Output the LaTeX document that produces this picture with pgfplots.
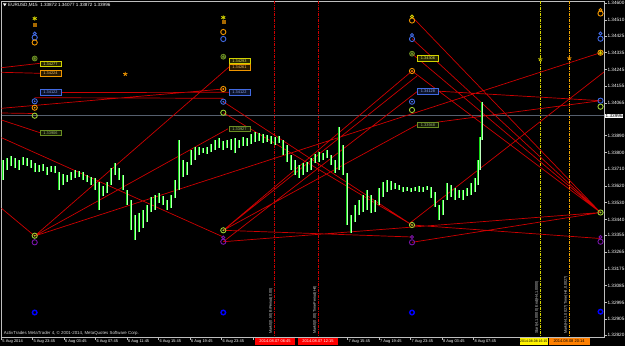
\documentclass[border=0pt]{standalone}
\usepackage{pgfplots}
\pgfplotsset{compat=1.18}
\usepackage{pgfplotstable}
\usepackage{fontspec}
\setmainfont{Liberation Sans}
\definecolor{cred}{RGB}{205,0,0}
\definecolor{cyel}{RGB}{210,210,0}
\definecolor{corg}{RGB}{240,150,0}
\definecolor{cblu}{RGB}{65,105,225}
\definecolor{coli}{RGB}{107,142,35}
\definecolor{cyg}{RGB}{154,205,50}
\definecolor{cpur}{RGB}{120,20,170}
\definecolor{cbb}{RGB}{0,0,255}
\definecolor{cgrn}{RGB}{20,215,20}
\definecolor{cpale}{RGB}{190,255,190}
\definecolor{cgray}{RGB}{85,95,110}
\definecolor{cframe}{RGB}{190,190,190}
\newcommand\tfp{\fontsize{4.7}{5}\selectfont}
\newcommand\tfd{\fontsize{4.0}{4.5}\selectfont}
\newcommand\tfb{\fontsize{3.9}{4.2}\selectfont}
\newcommand\tfv{\fontsize{3.8}{4.0}\selectfont}

% price bars: x (pixel column), top and bottom of the bar (pixel rows)
\pgfplotstableread{
x top bot
3 160 180
7 158 170
11 156 166
15 158 168
19 160 170
23 157 165
27 158 166
31 160 168
35 163 172
39 165 172
43 164 171
47 167 175
51 166 172
55 166 173
59 172 190
63 174 185
67 175 182
71 172 180
75 170 178
79 171 177
83 172 180
87 175 182
91 177 185
95 178 190
99 182 210
103 186 196
107 182 193
111 168 185
115 163 175
119 168 180
123 175 190
127 190 205
131 200 230
135 215 240
139 213 232
143 210 228
147 205 222
151 197 212
155 195 210
159 193 203
163 196 205
167 200 210
171 195 208
175 180 198
179 140 190
183 160 177
187 162 175
191 150 165
195 147 160
199 147 155
203 148 153
207 147 154
211 144 152
215 140 150
219 138 148
223 141 150
227 140 148
231 139 150
235 138 153
239 140 148
243 137 146
247 138 146
251 134 144
255 132 142
259 133 141
263 134 143
267 135 142
271 136 144
275 137 145
279 136 143
283 140 155
287 145 162
291 155 170
295 160 175
299 165 178
303 163 175
307 162 172
311 158 170
315 154 163
319 152 162
323 153 160
327 150 158
331 155 165
335 160 173
339 127 170
343 145 175
347 173 225
351 215 233
355 205 222
359 200 215
363 195 212
367 190 210
371 195 213
375 200 212
379 188 205
383 182 197
387 180 192
391 181 190
395 183 189
399 185 190
403 187 192
407 187 191
411 188 192
415 187 191
419 186 192
423 187 192
427 186 190
431 187 198
435 192 207
439 205 220
443 200 215
447 183 200
451 185 197
455 188 200
459 190 198
463 190 200
467 188 196
471 183 195
475 178 192
478 160 185
480 137 170
482 102 140
}\bars

\begin{document}
\begin{tikzpicture}[x=1bp,y=1bp]
\fill[black] (0,0) rectangle (625,346);
\useasboundingbox (0,0) rectangle (625,346);
\begin{axis}[
  at={(1.5bp,9bp)}, anchor=south west,
  scale only axis, width=602.8bp, height=336bp,
  xmin=1.5, xmax=604.3, ymin=1, ymax=337, y dir=reverse,
  clip=false,
  axis line style={draw=cframe, line width=0.6bp},
  tick align=outside, major tick length=2.5bp,
  tick style={draw=cframe, line width=0.5bp},
  ytick pos=right, yticklabel pos=right,
  xtick pos=lower,
  ytick={3.3,20.1,35.9,52.7,69.5,86.2,103.0,135.6,152.4,169.2,185.9,202.7,219.5,235.3,252.1,268.8,285.6,302.4,319.2,335.0},
  yticklabels={1.34600,1.34510,1.34425,1.34335,1.34245,1.34155,1.34065,1.33890,1.33800,1.33710,1.33620,1.33530,1.33440,1.33355,1.33265,1.33175,1.33085,1.32995,1.32905,1.32820},
  yticklabel style={font=\tfp, text=white, anchor=west, inner sep=0.5bp, xshift=0bp},
  xtick={1.5,32.5,64,95.5,127,158.5,190,221.5,253,284.5,316,347.5,379,410.5,442,473.5},
  xticklabels={5 Aug 2014,5 Aug 23:45,6 Aug 03:45,6 Aug 07:45,6 Aug 11:45,6 Aug 15:45,6 Aug 19:45,6 Aug 23:45,,,,7 Aug 15:45,7 Aug 19:45,7 Aug 23:45,8 Aug 03:45,8 Aug 07:45},
  xticklabel style={font=\tfd, text=white, anchor=north west, inner sep=0.5bp, xshift=0.3bp, yshift=0.3bp},
]
% vertical lines
\addplot[cred, line width=0.7bp, dash pattern=on 3bp off 1bp on 1bp off 1bp] coordinates {(274.3,1) (274.3,337)};
\addplot[cred, line width=0.7bp, dash pattern=on 3bp off 1bp on 1bp off 1bp] coordinates {(318.3,1) (318.3,337)};
\addplot[cyel, line width=0.7bp, dash pattern=on 3bp off 1bp on 1bp off 1bp] coordinates {(540.3,1) (540.3,337)};
\addplot[corg!85!yellow, line width=0.7bp, dash pattern=on 3bp off 1bp on 1bp off 1bp] coordinates {(569.3,1) (569.3,337)};
% current price line
\addplot[cgray, line width=0.9bp] coordinates {(1.5,115.9) (604.3,115.9)};
% trend lines
\addplot[cred, line width=0.7bp, unbounded coords=jump] coordinates {
(1.5,67.7) (40,63.3) (nan,nan)
(1.5,72.3) (40,73.3) (nan,nan)
(1.5,108.3) (223.3,89) (nan,nan)
(61,92.5) (229,92.3) (nan,nan)
(34.7,97.7) (223.3,98.3) (nan,nan)
(1.5,113) (34.7,113.5) (nan,nan)
(1.5,120) (40,132.7) (nan,nan)
(1.5,137.7) (223.3,237) (nan,nan)
(1.5,208.3) (34.7,236) (nan,nan)
(34.7,236) (229,67) (nan,nan)
(34.7,236) (228,128.8) (nan,nan)
(34.7,236) (600.5,52.7) (nan,nan)
(223.3,101.7) (412,225) (nan,nan)
(223.3,112.7) (412,225) (nan,nan)
(223.3,230.3) (412,71) (nan,nan)
(223.3,230.3) (417,76) (nan,nan)
(223.3,241.7) (417,91.7) (nan,nan)
(223.3,230.3) (417,124.8) (nan,nan)
(417,124.8) (600.5,100.7) (nan,nan)
(438.7,91.2) (600.5,100.7) (nan,nan)
(412,16.7) (600.5,212.5) (nan,nan)
(412,38.7) (600.5,212.5) (nan,nan)
(412,53.7) (600.5,212.5) (nan,nan)
(412,71) (600.5,212.5) (nan,nan)
(223.3,230.3) (412,237) (nan,nan)
(223.3,241.7) (600.5,212.5) (nan,nan)
(412,242.3) (600.5,212.5) (nan,nan)
(412,225) (600.5,238.5) (nan,nan)
(410,223) (604,72) (nan,nan)
};
% price bars
\addplot[draw=none, mark=none, forget plot,
  error bars/.cd, y dir=plus, y explicit, error mark=none,
  error bar style={draw=cgrn, line width=1.15bp, solid}]
  table[x=x, y=top, y error expr=\thisrow{bot}-\thisrow{top}] {\bars};
\addplot[draw=none, mark=none, forget plot,
  error bars/.cd, y dir=plus, y explicit, error mark=none,
  error bar style={draw=cpale, line width=0.35bp, solid}]
  table[x=x, y=top, y error expr=\thisrow{bot}-\thisrow{top}] {\bars};
% markers
\addplot[only marks, mark=o, mark size=2.6bp, cyg, line width=0.9bp] coordinates {(34.7,115.7) (223.3,112.7) (412,110) (34.7,235.7) (223.3,230.3) (412,225) (600.5,212.5) (600.5,106.7)};
\addplot[only marks, mark=*, mark size=0.7bp, cyg] coordinates {(34.7,235.7) (223.3,230.3) (412,225) (600.5,212.5)};
\addplot[only marks, mark=o, mark size=2.6bp, cblu, line width=0.9bp] coordinates {(34.7,37.5) (223.3,39) (412,39) (600.5,38.7) (34.7,101.3) (223.3,101.7) (412,101.7) (600.5,100.7)};
\addplot[only marks, mark=*, mark size=0.7bp, cblu] coordinates {(34.7,101.3) (223.3,101.7) (412,101.7)};
\addplot[only marks, mark=o, mark size=1.5bp, cblu, line width=0.8bp] coordinates {(34.7,33.5) (412,35) (600.5,33.5)};
\addplot[only marks, mark=o, mark size=2.6bp, corg, line width=0.9bp] coordinates {(34.7,42.5) (223.3,32) (412,20.5) (600.5,13.5) (34.7,107.7) (223.3,89) (412,71)};
\addplot[only marks, mark=*, mark size=0.7bp, corg] coordinates {(34.7,107.7) (223.3,89) (412,71)};
\addplot[only marks, mark=o, mark size=1.5bp, cyel, line width=0.8bp] coordinates {(412,16.5)};
\addplot[only marks, mark=o, mark size=1.5bp, corg, line width=0.8bp] coordinates {(600.5,10)};
\addplot[only marks, mark=o, mark size=2.4bp, coli, line width=0.9bp] coordinates {(34.7,58.5) (223.3,56.7) (412,53.7)};
\addplot[only marks, mark=asterisk, mark size=1.8bp, coli, line width=0.6bp] coordinates {(34.7,58.5) (223.3,56.7) (412,53.7)};
\addplot[only marks, mark=o, mark size=2.6bp, corg, line width=0.9bp] coordinates {(600.5,52.7)};
\addplot[only marks, mark=asterisk, mark size=2bp, cyel, line width=0.6bp] coordinates {(600.5,52.7)};
\addplot[only marks, mark=asterisk, mark size=2.2bp, cyel, line width=0.8bp] coordinates {(34.7,18.5) (223.3,17.5)};
\addplot[only marks, mark=square*, mark size=1.4bp, corg!70!black] coordinates {(34.7,24.5) (223.3,21.5)};
\addplot[only marks, mark=o, mark size=2.6bp, cpur, line width=0.9bp] coordinates {(34.7,242.3) (223.3,241.7) (412,242.3) (600.5,241.7)};
\addplot[only marks, mark=o, mark size=1.5bp, cpur, line width=0.8bp] coordinates {(223.3,237.5) (412,237) (600.5,237)};
\addplot[only marks, mark=o, mark size=2.3bp, cbb, line width=1.4bp] coordinates {(34.7,312.5) (223.3,312.5) (412,312.5) (600.5,311.7)};
% stars
\addplot[only marks, mark=star, mark size=2.2bp, corg, line width=0.8bp] coordinates {(125.3,74)};
\addplot[only marks, mark=star, mark size=2.2bp, cyel, line width=0.8bp] coordinates {(540.3,59.3)};
\addplot[only marks, mark=star, mark size=2.2bp, corg, line width=0.8bp] coordinates {(569.3,58.3)};
% price boxes
\tikzset{pbox/.style={draw=#1, text=#1!60!white, fill=#1!18!black, font=\tfb, inner sep=0.4bp, minimum width=21bp, minimum height=5.6bp, line width=0.5bp}}
\node[pbox=cyel] at (axis cs:50.5,63.8) {1.34277};
\node[pbox=corg] at (axis cs:50.5,73.5) {1.34224};
\node[pbox=cblu] at (axis cs:50.5,92.5) {1.34122};
\node[pbox=coli] at (axis cs:50.5,132.7) {1.33906};
\node[pbox=cyel] at (axis cs:239.5,60.8) {1.34293};
\node[pbox=corg] at (axis cs:239.5,67) {1.34261};
\node[pbox=cblu] at (axis cs:239.5,92.3) {1.34122};
\node[pbox=coli] at (axis cs:239.5,128.8) {1.33927};
\node[pbox=cyel] at (axis cs:428,58) {1.34306};
\node[pbox=cblu] at (axis cs:428,91.2) {1.34128};
\node[pbox=coli] at (axis cs:428,124.8) {1.33948};
% current price label
\node[fill=white, text=black, font=\tfp, inner sep=0.5bp, anchor=west] at (axis cs:605,115.9) {1.33996};
% time labels of vertical lines
\node[fill=red, text=white, font=\tfd, inner sep=0.5bp, minimum width=40bp, minimum height=7.5bp] at (axis cs:275,341.6) {2014.08.07 06:45};
\node[fill=red, text=white, font=\tfd, inner sep=0.5bp, minimum width=40bp, minimum height=7.5bp] at (axis cs:318,341.6) {2014.08.07 12:15};
\node[fill=yellow, text=black, font=\fontsize{3.5}{4}\selectfont, inner sep=0.3bp, minimum width=28bp, minimum height=7.5bp, anchor=east] at (axis cs:548,341.6) {2014.08.08 16:15};
\node[fill=orange, text=black, font=\tfd, inner sep=0.5bp, minimum width=41bp, minimum height=7.5bp, anchor=west] at (axis cs:548.3,341.6) {2014.08.08 20:14};
% rotated object descriptions
\node[rotate=90, anchor=west, text=white!85!black, font=\tfv, inner sep=0bp] at (axis cs:271,334) {Mark0(0.50) BiPeriod(0.00)};
\node[rotate=90, anchor=west, text=white!85!black, font=\tfv, inner sep=0bp] at (axis cs:315,334) {Mark0(0.00) TimePeriod(H4)};
\node[rotate=90, anchor=west, text=white!85!black, font=\tfv, inner sep=0bp] at (axis cs:537,334) {Start(4,1.0000) End(H4,1.0000)};
\node[rotate=90, anchor=west, text=white!85!black, font=\tfv, inner sep=0bp] at (axis cs:566,334) {Mark(H4,1.0027) Time(H4,0.0027)};
\end{axis}
% header and footer
\fill[white] (3,342.5) -- (6.5,342.5) -- (4.75,339.8) -- cycle;
\node[anchor=west, text=white, font=\fontsize{4.6}{5}\selectfont, inner sep=0bp] at (8,341) {EURUSD,M15\ \ 1.33872 1.34077 1.33872 1.33996};
\node[anchor=west, text=white!85!black, font=\fontsize{4.4}{5}\selectfont, inner sep=0bp] at (3.7,12.7) {ActivTrades MetaTrader 4, © 2001-2014, MetaQuotes Software Corp.};
\end{tikzpicture}
\end{document}
